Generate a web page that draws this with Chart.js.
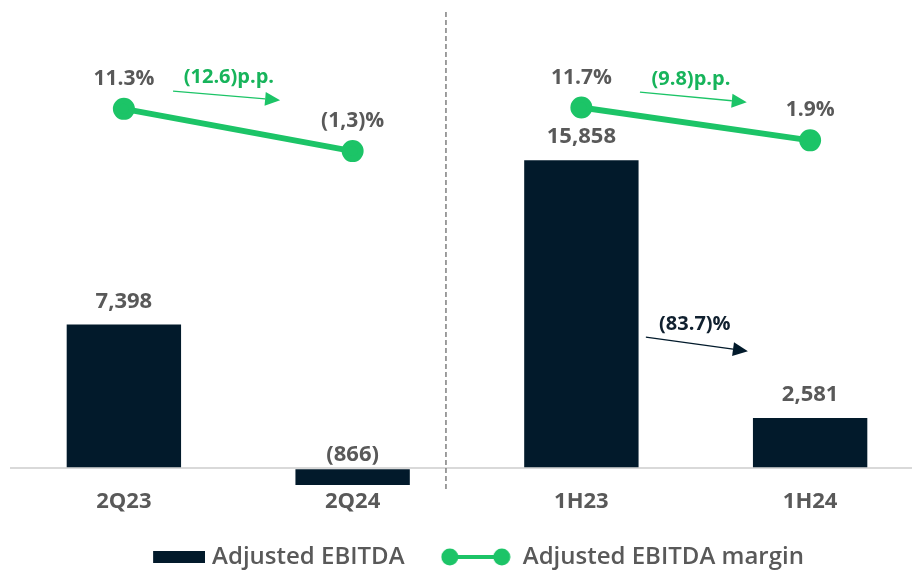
<!DOCTYPE html>
<html>
<head>
<meta charset="utf-8">
<script src="https://cdn.jsdelivr.net/npm/chart.js@4.4.1/dist/chart.umd.min.js"></script>
<style>
  html, body { margin: 0; padding: 0; background: #fff; overflow: hidden; }
  #wrap { width: 925px; height: 570px; }
</style>
</head>
<body>
<div id="wrap"><canvas id="chart"></canvas></div>
<script>
const categories = ['2Q23', '2Q24', '1H23', '1H24'];
const ebitda = [7398, -866, 15858, 2581];
const ebitdaLabels = ['7,398', '(866)', '15,858', '2,581'];
const margin = [11.3, -1.3, 11.7, 1.9];
const marginLabels = ['11.3%', '(1,3)%', '11.7%', '1.9%'];

// change notes, anchored in data units (category index, axis value)
const changeLabels = ['(12.6)p.p.', '(9.8)p.p.', '(83.7)%'];
const changeAxis = ['yMargin', 'yMargin', 'yEbitda'];
const changeText = [[0.459, 20.8], [2.479, 20.2], [2.496, 7415]];
const changeFrom = [[0.215, 16.6], [2.256, 16.3], [2.282, 6746]];
const changeTo = [[0.683, 13.9], [2.723, 13.3], [2.728, 6025]];
const dividerAt = 1.408;

const NAVY = '#021a2b';
const GREEN = '#1cc467';
const GREEN_TEXT = '#17b45b';
const GREY = '#595959';

// legend keys
const barKey = document.createElement('canvas');
barKey.width = 80; barKey.height = 12;
let k = barKey.getContext('2d');
k.fillStyle = NAVY; k.fillRect(28, 0, 52, 12);

const lineKey = document.createElement('canvas');
lineKey.width = 70; lineKey.height = 18;
k = lineKey.getContext('2d');
k.strokeStyle = GREEN; k.lineWidth = 4;
k.beginPath(); k.moveTo(9, 9); k.lineTo(61, 9); k.stroke();
k.fillStyle = GREEN;
k.beginPath(); k.arc(9, 9, 8.5, 0, Math.PI * 2); k.fill();
k.beginPath(); k.arc(61, 9, 8.5, 0, Math.PI * 2); k.fill();

function arrow(ctx, x1, y1, x2, y2, color, width) {
  const a = Math.atan2(y2 - y1, x2 - x1);
  const head = 15, half = 7;
  const bx = x2 - head * Math.cos(a), by = y2 - head * Math.sin(a);
  ctx.strokeStyle = color; ctx.lineWidth = width;
  ctx.beginPath(); ctx.moveTo(x1, y1); ctx.lineTo(bx, by); ctx.stroke();
  ctx.fillStyle = color;
  ctx.beginPath(); ctx.moveTo(x2, y2);
  ctx.lineTo(bx + half * Math.sin(a), by - half * Math.cos(a));
  ctx.lineTo(bx - half * Math.sin(a), by + half * Math.cos(a));
  ctx.closePath(); ctx.fill();
}

const notesPlugin = {
  id: 'notes',
  afterDatasetsDraw(chart) {
    const { ctx, chartArea, scales } = chart;
    const x = scales.x;
    ctx.save();
    // divider between quarter and half-year
    const dx = x.getPixelForValue(dividerAt);
    ctx.strokeStyle = '#7f7f7f'; ctx.lineWidth = 1.5; ctx.setLineDash([5, 3]);
    ctx.beginPath(); ctx.moveTo(dx, chartArea.top + 2); ctx.lineTo(dx, chartArea.bottom + 1); ctx.stroke();
    ctx.setLineDash([]);

    ctx.textAlign = 'center'; ctx.textBaseline = 'middle';
    ctx.fillStyle = GREY;
    ctx.font = '700 22px "Open Sans"';
    chart.getDatasetMeta(0).data.forEach((bar, i) => {
      const y = ebitda[i] >= 0 ? bar.y - 23 : bar.base - 15;
      ctx.fillText(ebitdaLabels[i], bar.x, y);
    });
    ctx.font = '700 21px "Open Sans"';
    chart.getDatasetMeta(1).data.forEach((pt, i) => {
      ctx.fillText(marginLabels[i], pt.x, pt.y - 30);
    });

    changeLabels.forEach((label, i) => {
      const ys = scales[changeAxis[i]];
      const isMargin = changeAxis[i] === 'yMargin';
      arrow(ctx,
        x.getPixelForValue(changeFrom[i][0]), ys.getPixelForValue(changeFrom[i][1]),
        x.getPixelForValue(changeTo[i][0]), ys.getPixelForValue(changeTo[i][1]),
        isMargin ? GREEN : NAVY, isMargin ? 1.3 : 1.2);
      ctx.fillStyle = isMargin ? GREEN_TEXT : '#10202f';
      ctx.font = '700 20px "Open Sans"';
      ctx.fillText(label, x.getPixelForValue(changeText[i][0]), ys.getPixelForValue(changeText[i][1]));
    });
    ctx.restore();
  }
};

new Chart(document.getElementById('chart'), {
  type: 'bar',
  data: {
    labels: categories,
    datasets: [
      {
        label: 'Adjusted EBITDA',
        data: ebitda,
        backgroundColor: NAVY,
        yAxisID: 'yEbitda',
        barPercentage: 1,
        categoryPercentage: 0.5,
        clip: false,
      },
      {
        type: 'line',
        label: 'Adjusted EBITDA margin',
        data: margin,
        yAxisID: 'yMargin',
        borderColor: GREEN,
        backgroundColor: GREEN,
        borderWidth: 6,
        pointRadius: 8,
        pointBackgroundColor: GREEN,
        pointBorderColor: GREEN,
        segment: {
          borderColor: (c) => (c.p0DataIndex === 1 ? 'rgba(0,0,0,0)' : GREEN),
        },
        clip: false,
      },
    ],
  },
  options: {
    responsive: true,
    maintainAspectRatio: false,
    animation: false,
    layout: { autoPadding: false, padding: { left: 9.5, right: 0.5, top: 10, bottom: -9 } },
    scales: {
      x: {
        grid: { display: false, drawTicks: false },
        border: { display: false },
        ticks: {
          color: GREY,
          padding: 0,
          font: { family: 'Open Sans', size: 22, weight: '700' },
        },
      },
      yEbitda: {
        position: 'left',
        min: -1046,
        max: 23584,
        afterBuildTicks: (s) => { s.ticks = [{ value: 0 }]; },
        grid: { color: '#d9d9d9', lineWidth: 2, drawTicks: false },
        border: { display: false },
        ticks: { display: false },
      },
      yMargin: {
        position: 'right',
        min: -102,
        max: 40.8,
        display: false,
      },
    },
    plugins: {
      tooltip: { enabled: false },
      legend: {
        position: 'bottom',
        labels: {
          usePointStyle: true,
          pointStyleWidth: 70,
          padding: 30,
          color: GREY,
          font: { family: 'Open Sans', size: 24, weight: '600' },
          generateLabels(chart) {
            const items = Chart.defaults.plugins.legend.labels.generateLabels(chart);
            items[0].pointStyle = barKey;
            items[0].text += ' ';
            items[1].pointStyle = lineKey;
            return items;
          },
        },
      },
    },
  },
  plugins: [notesPlugin],
});
</script>
</body>
</html>
